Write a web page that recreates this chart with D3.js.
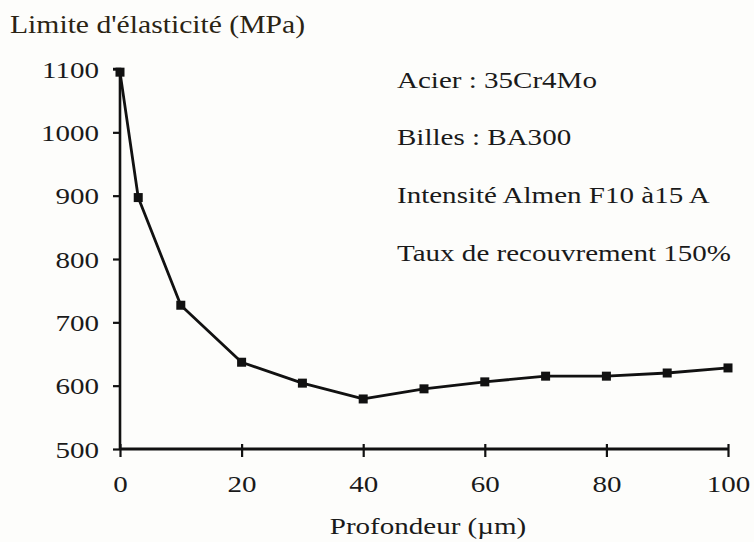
<!DOCTYPE html>
<html>
<head>
<meta charset="utf-8">
<script src="https://cdn.jsdelivr.net/npm/d3@7"></script>
<style>
  html, body { margin: 0; padding: 0; background: #fdfdfb; }
  svg { display: block; }
  text { font-family: "Liberation Serif", serif; fill: #1a1a1a; }
</style>
</head>
<body>
<svg id="chart" width="754" height="542"></svg>
<script>
const depths = [0, 3, 10, 20, 30, 40, 50, 60, 70, 80, 90, 100];
const yieldStress = [1095, 897, 727, 637, 604, 579, 595, 606, 615, 615, 620, 628];
const xTicks = [0, 20, 40, 60, 80, 100];
const yTicks = [500, 600, 700, 800, 900, 1000, 1100];
const yTitle = "Limite d'élasticité (MPa)";
const xTitle = "Profondeur (µm)";
const notes = ["Acier : 35Cr4Mo", "Billes : BA300", "Intensité Almen F10 à15 A", "Taux de recouvrement 150%"];

const SX = 1.21; // horizontal stretch of the scanned lettering
const svg = d3.select("#chart");
const x = d3.scaleLinear().domain([0, 100]).range([120, 728]);
const y = d3.scaleLinear().domain([500, 1100]).range([449, 69]);

function stretchedText(g, tx, ty, str, size, anchor) {
  return g.append("text")
    .attr("transform", `translate(${tx},${ty}) scale(${SX},1)`)
    .attr("text-anchor", anchor || "start")
    .attr("font-family", "Liberation Serif")
    .attr("font-size", size)
    .text(str);
}

// Y axis
const yAxis = d3.axisLeft(y).tickValues(yTicks).tickSize(7).tickFormat(d3.format("d"));
const gy = svg.append("g").attr("transform", `translate(${x(0)},0)`).call(yAxis);
gy.select(".domain").attr("stroke", "#111").attr("stroke-width", 2.6).attr("d", `M-7,${y(1100)}H0V${y(500)}`);
gy.selectAll(".tick line").attr("stroke", "#111").attr("stroke-width", 2.2);
gy.selectAll(".tick text").remove();
gy.selectAll(".tick").each(function(d) {
  stretchedText(d3.select(this), -21, 8, d3.format("d")(d), 24, "end");
});

// X axis
const xAxis = d3.axisBottom(x).tickValues(xTicks).tickSize(8);
const gx = svg.append("g").attr("transform", `translate(0,${y(500)})`).call(xAxis);
gx.select(".domain").attr("stroke", "#111").attr("stroke-width", 2.8).attr("d", `M${x(0)},0H${x(100)}`);
gx.selectAll(".tick line").attr("stroke", "#111").attr("stroke-width", 2.2).attr("y1", -5);
gx.selectAll(".tick text").remove();
gx.selectAll(".tick").each(function(d) {
  stretchedText(d3.select(this), 0, 43, String(d), 24, "middle");
});

// Line
const line = d3.line().x((d, i) => x(depths[i])).y(d => y(d));
svg.append("path").datum(yieldStress)
  .attr("fill", "none").attr("stroke", "#111").attr("stroke-width", 2.8)
  .attr("stroke-linejoin", "round").attr("d", line);

// Markers
const ms = 9;
svg.selectAll("rect.mk").data(yieldStress).join("rect").attr("class", "mk")
  .attr("x", (d, i) => x(depths[i]) - ms / 2)
  .attr("y", d => y(d) - ms / 2)
  .attr("width", ms).attr("height", ms)
  .attr("fill", "#111");

// Titles
stretchedText(svg, 10, 33, yTitle, 24.5, "start").style("fill", "#2b2414");
stretchedText(svg, 428, 534, xTitle, 24, "middle");

// Notes
const noteY = [88, 145, 203, 261];
notes.forEach((n, i) => stretchedText(svg, 397, noteY[i], n, 24, "start"));
</script>
</body>
</html>
